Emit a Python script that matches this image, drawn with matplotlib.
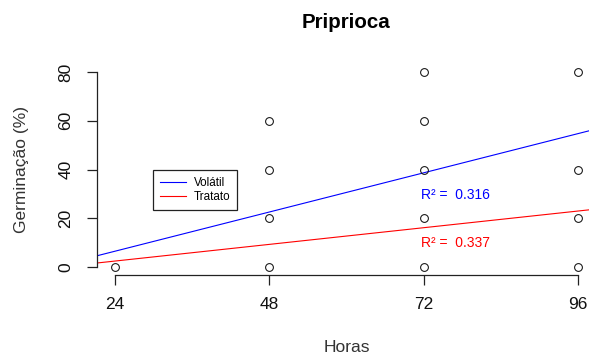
import matplotlib
matplotlib.use("Agg")
from matplotlib import pyplot as plt

plt.rcParams['font.family'] = ['Liberation Sans', 'DejaVu Sans']

# observed germination (%) per time point
horas = [24, 48, 48, 48, 48, 72, 72, 72, 72, 72, 96, 96, 96, 96]
germinacao = [0, 0, 20, 40, 60, 0, 20, 40, 60, 80, 0, 20, 40, 80]

# linear fits: (intercept, slope, R²)
series = ["Volátil", "Tratato"]
intercepts = [-9.6, -4.4]
slopes = [0.67, 0.285]
r2 = [0.316, 0.337]
colors = ["#0000FF", "#FF0000"]

x_ticks = [24, 48, 72, 96]
y_ticks = [0, 20, 40, 60, 80]

W, H = 589, 354
fig = plt.figure(figsize=(W / 100, H / 100), dpi=100)
ax = fig.add_axes([96.5 / W, 79.2 / H, 500 / W, 210.6 / H])

ax.plot(horas, germinacao, 'o', mfc='none', mec='#111111', ms=5.6, mew=0.75,
        zorder=3, clip_on=False)

for name, b, m, c in zip(series, intercepts, slopes, colors):
    ax.axline((0, b), slope=m, color=c, lw=0.8, label=name)

ax.set_xlim(21.12, 98.88)
ax.set_ylim(-3.2, 83.2)

for s in ['top', 'right']:
    ax.spines[s].set_visible(False)
ax.spines['left'].set_bounds(0, 80)
ax.spines['bottom'].set_bounds(24, 96)
for s in ['left', 'bottom']:
    ax.spines[s].set_linewidth(0.9)
    ax.spines[s].set_color('#222222')

ax.set_xticks(x_ticks)
ax.set_yticks(y_ticks)
ax.tick_params(axis='both', length=7.2, width=0.9, color='#222222',
               labelsize=12.5, labelcolor='#111111')
ax.tick_params(axis='x', pad=9)
ax.tick_params(axis='y', pad=9.5)
for lbl in ax.get_yticklabels():
    lbl.set_rotation(90)
    lbl.set_va('center')

ax.set_xlabel('Horas', fontsize=12.5, color='#333333')
ax.xaxis.set_label_coords(0.5, -0.343)
ax.set_ylabel('Germinação (%)', fontsize=12.5, color='#333333')
ax.yaxis.set_label_coords(-0.149, 0.5)
ax.xaxis.label.set_va('center')
ax.yaxis.label.set_va('center')

fig.text(346.5 / W, 332 / H, 'Priprioca', fontsize=14.8, fontweight='bold',
         ha='center', va='center')

# R² annotations next to each fitted line
ax.text(71.6, 29.5, "R² =  %.3f" % r2[0], color=colors[0], fontsize=10,
        va='center', ha='left')
ax.text(71.6, 10, "R² =  %.3f" % r2[1], color=colors[1], fontsize=10,
        va='center', ha='left')

leg = ax.legend(loc='upper left', bbox_to_anchor=(153 / W, 1 - 170 / H),
                bbox_transform=fig.transFigure, borderaxespad=0,
                fontsize=8.4, fancybox=False, edgecolor='#222222',
                framealpha=1, handlelength=2.2, handletextpad=0.7,
                borderpad=0.6, labelspacing=0.2)
leg.get_frame().set_linewidth(0.9)

fig.savefig('out.png', dpi=100)
